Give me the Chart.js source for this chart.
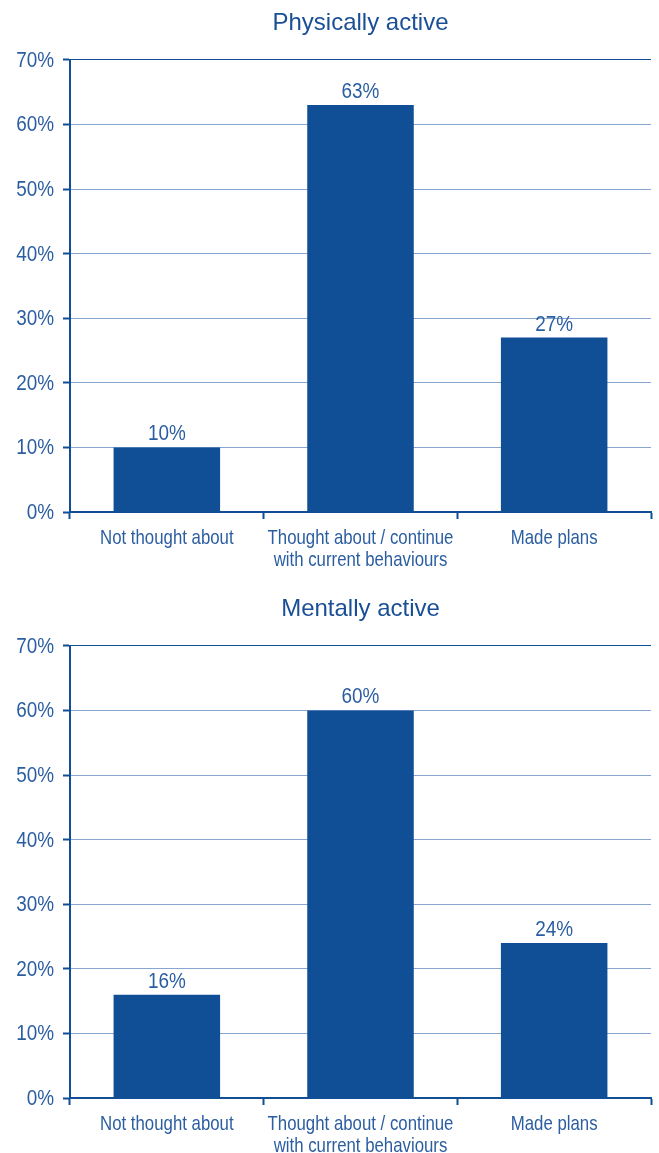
<!DOCTYPE html>
<html>
<head>
<meta charset="utf-8">
<script src="https://cdn.jsdelivr.net/npm/chart.js@4.4.1/dist/chart.umd.min.js"></script>
<style>
  html, body { margin: 0; padding: 0; background: #fff; overflow: hidden; }
  .box { width: 659px; height: 586px; }
</style>
</head>
<body>
<div class="box"><canvas id="physicalChart" width="659" height="586"></canvas></div>
<div class="box"><canvas id="mentalChart" width="659" height="586"></canvas></div>
<script>
var categories = ["Not thought about", ["Thought about / continue", "with current behaviours"], "Made plans"];
var physicalValues = [10, 63, 27];
var mentalValues = [16, 60, 24];

var barBlue = '#104e96';
var textBlue = '#2b5ea1';
var gridBlue = '#86a5cf';
var sansFont = '"Liberation Sans", Arial, sans-serif';

// condensed text: regular sans squeezed horizontally
function narrowText(c, text, x, y, size, squeeze, align, baseline) {
  c.save();
  c.translate(x, y);
  c.scale(squeeze, 1);
  c.font = size + 'px ' + sansFont;
  c.fillStyle = textBlue;
  c.textAlign = align;
  c.textBaseline = baseline;
  c.fillText(text, 0, 0);
  c.restore();
}

// axis labels and the value over each bar
var narrowLabels = {
  id: 'narrowLabels',
  afterDatasetsDraw: function(chart) {
    var c = chart.ctx;
    var xs = chart.scales.x, ys = chart.scales.y;

    ys.ticks.forEach(function(t, i) {
      narrowText(c, t.value + '%', ys.right - 16, ys.getPixelForTick(i) + 1, 22, 0.86, 'right', 'middle');
    });

    chart.data.labels.forEach(function(lab, i) {
      var lines = Array.isArray(lab) ? lab : [lab];
      lines.forEach(function(line, j) {
        narrowText(c, line, xs.getPixelForTick(i), xs.top + 32 + j * 22, 21, 0.8, 'center', 'alphabetic');
      });
    });

    chart.getDatasetMeta(0).data.forEach(function(bar, i) {
      narrowText(c, chart.data.datasets[0].data[i] + '%', bar.x, bar.y - 7, 22, 0.86, 'center', 'alphabetic');
    });
  }
};

function makeChart(id, title, values) {
  return new Chart(document.getElementById(id), {
    type: 'bar',
    data: {
      labels: categories,
      datasets: [{
        data: values,
        backgroundColor: barBlue,
        barPercentage: 1,
        categoryPercentage: 0.55
      }]
    },
    plugins: [narrowLabels],
    options: {
      responsive: false,
      animation: false,
      layout: { padding: { right: 8 } },
      plugins: {
        legend: { display: false },
        tooltip: { enabled: false },
        title: {
          display: true,
          fullSize: false,
          text: title,
          color: '#1a4f96',
          font: { family: sansFont, size: 24, weight: 'normal' },
          padding: { top: 9, bottom: 22 }
        }
      },
      scales: {
        x: {
          afterFit: function(scale) { scale.height = 74; },
          grid: {
            offset: true,
            drawOnChartArea: false,
            tickLength: 7,
            tickColor: barBlue,
            tickWidth: 2
          },
          border: { color: barBlue, width: 2 },
          ticks: { display: false, autoSkip: false }
        },
        y: {
          min: 0,
          max: 70,
          afterFit: function(scale) { scale.width = 70; },
          grid: {
            color: function(ctx) { return ctx.tick && ctx.tick.value === 70 ? barBlue : gridBlue; },
            lineWidth: 1,
            tickLength: 7,
            tickColor: barBlue,
            tickWidth: 2
          },
          border: { color: barBlue, width: 2 },
          ticks: { display: false, stepSize: 10 }
        }
      }
    }
  });
}

makeChart('physicalChart', 'Physically active', physicalValues);
makeChart('mentalChart', 'Mentally active', mentalValues);
</script>
</body>
</html>
